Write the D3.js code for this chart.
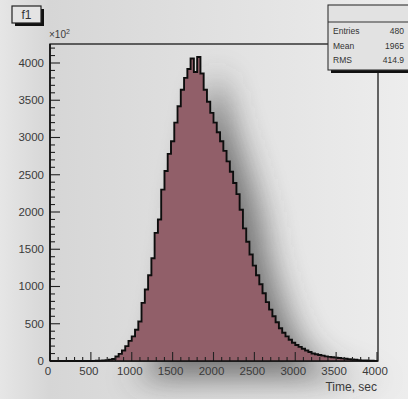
<!DOCTYPE html>
<html><head><meta charset="utf-8">
<script src="https://cdn.jsdelivr.net/npm/d3@7"></script>
<style>html,body{margin:0;padding:0;background:#e6e6e6;}svg{display:block;}</style>
</head><body>
<svg id="c" width="408" height="399"></svg>
<script>
// Histogram bin lower edges (seconds), bin width 40
const binWidth = 40;
const binStarts = d3.range(0, 4000, binWidth);
// Bin contents (x10^2)
const counts = [
  0,0,0,0,0,0,0,0,0,0,
  0,0,0,2,3,5,8,12,18,26,
  60,95,140,200,270,330,420,530,780,960,
  1150,1380,1720,1900,2300,2550,2780,2950,3200,3420,
  3640,3800,3920,4060,3880,4080,3860,3640,3480,3330,
  3200,3070,2950,2820,2680,2540,2390,2240,2030,1780,
  1600,1430,1280,1150,1030,910,790,690,600,520,
  440,380,330,285,245,215,190,165,140,120,
  100,90,80,72,62,55,50,45,40,35,
  30,25,20,16,12,9,6,4,3,2
];
const xTicks = [0,500,1000,1500,2000,2500,3000,3500,4000];
const yTicks = [0,500,1000,1500,2000,2500,3000,3500,4000];
const statLabels = ["Entries","Mean","RMS"];
const statValues = ["480","1965","414.9"];
const titleText = "f1";
const xTitle = "Time, sec";

const svg = d3.select("#c");
const L = 50, R = 378, T = 44, B = 361;
const x = d3.scaleLinear().domain([0,4000]).range([L,377]);
const y = d3.scaleLinear().domain([0,4255]).range([B,T]);

const defs = svg.append("defs");
const bg = defs.append("linearGradient").attr("id","bg").attr("x1",0).attr("y1",0).attr("x2",1).attr("y2",0);
bg.append("stop").attr("offset","0%").attr("stop-color","#e6e6e6");
bg.append("stop").attr("offset","12%").attr("stop-color","#d6d6d6");
bg.append("stop").attr("offset","50%").attr("stop-color","#e0e0e0");
bg.append("stop").attr("offset","100%").attr("stop-color","#ededed");
defs.append("filter").attr("id","blur").attr("x","-50%").attr("y","-50%").attr("width","200%").attr("height","200%")
  .append("feGaussianBlur").attr("stdDeviation",16);
defs.append("filter").attr("id","soft").append("feGaussianBlur").attr("stdDeviation",0.5);

svg.append("rect").attr("width",408).attr("height",399).attr("fill","url(#bg)");

const data = binStarts.map((s,i)=>({x0:s,x1:s+binWidth,v:counts[i]}));
const areaPts = [];
data.forEach(d=>{areaPts.push([d.x0,d.v]);areaPts.push([d.x1,d.v]);});
const area = d3.area().x(d=>x(d[0])).y0(y(0)).y1(d=>y(d[1]));
const line = d3.line().x(d=>x(d[0])).y(d=>y(d[1]));

// blurred shadow
svg.append("path").datum(areaPts).attr("d",area)
  .attr("transform","translate(22,18)")
  .attr("fill","#3a3a3a").attr("opacity",0.65).attr("filter","url(#blur)");

// frame
svg.append("rect").attr("x",L).attr("y",T).attr("width",R-L).attr("height",B-T)
  .attr("fill","none").attr("stroke","#1a1a1a").attr("stroke-width",1.3);

// histogram
svg.append("path").datum(areaPts).attr("d",area).attr("fill","#915f69");
svg.append("path").datum(areaPts).attr("d",line).attr("fill","none")
  .attr("stroke","#111").attr("stroke-width",1.9).attr("filter","url(#soft)");

// axes
const ax = svg.append("g").attr("stroke","#222").attr("stroke-width",1.1);
d3.range(0,4001,100).forEach(v=>{
  const major = v%500===0;
  ax.append("line").attr("x1",x(v)).attr("x2",x(v)).attr("y1",B).attr("y2",B-(major?9:4));
});
d3.range(0,4256,100).forEach(v=>{
  const major = v%500===0;
  ax.append("line").attr("x1",L).attr("x2",L+(major?10:5)).attr("y1",y(v)).attr("y2",y(v));
});
svg.append("line").attr("x1",L).attr("x2",R).attr("y1",B).attr("y2",B).attr("stroke","#111").attr("stroke-width",1.6);
svg.append("line").attr("x1",L).attr("x2",L).attr("y1",T).attr("y2",B).attr("stroke","#111").attr("stroke-width",1.6);

const font = "Liberation Sans, Arial, sans-serif";
svg.append("g").selectAll("text").data(xTicks).join("text")
  .attr("x",d=>x(d)-2).attr("y",375).attr("text-anchor","middle")
  .attr("font-family",font).attr("font-size",11.5).attr("fill","#3a3a3a").text(d=>d);
svg.append("g").selectAll("text").data(yTicks).join("text")
  .attr("x",44).attr("y",d=>y(d)+4).attr("text-anchor","end")
  .attr("font-family",font).attr("font-size",11.5).attr("fill","#3a3a3a").text(d=>d);
svg.append("text").attr("x",377).attr("y",391).attr("text-anchor","end")
  .attr("font-family",font).attr("font-size",12).attr("fill","#3a3a3a").text(xTitle);
const ex = svg.append("text").attr("x",49).attr("y",38).attr("font-family",font).attr("font-size",10).attr("fill","#3a3a3a");
ex.append("tspan").text("×10");
ex.append("tspan").attr("dy",-4).attr("font-size",7).text("2");

// title box
svg.append("rect").attr("x",15).attr("y",9).attr("width",29).attr("height",17).attr("fill","#111");
svg.append("rect").attr("x",12).attr("y",6).attr("width",29).attr("height",17).attr("fill","#e4e4e4").attr("stroke","#222").attr("stroke-width",1.2);
svg.append("text").attr("x",26.5).attr("y",19).attr("text-anchor","middle").attr("font-family",font)
  .attr("font-size",12).attr("fill","#333").text(titleText);

// stats box
svg.append("rect").attr("x",331).attr("y",8).attr("width",80).attr("height",65).attr("fill","#111");
svg.append("rect").attr("x",328).attr("y",5).attr("width",82).attr("height",65).attr("fill","#e2e2e2").attr("stroke","#333").attr("stroke-width",1.1);
svg.append("line").attr("x1",328).attr("x2",410).attr("y1",22).attr("y2",22).attr("stroke","#333").attr("stroke-width",1.1);
statLabels.forEach((s,i)=>{
  svg.append("text").attr("x",333).attr("y",34+i*14.5).attr("font-family",font).attr("font-size",8.5).attr("fill","#333").text(s);
  svg.append("text").attr("x",404).attr("y",34+i*14.5).attr("text-anchor","end").attr("font-family",font).attr("font-size",8.5).attr("fill","#333").text(statValues[i]);
});
</script>
</body></html>
